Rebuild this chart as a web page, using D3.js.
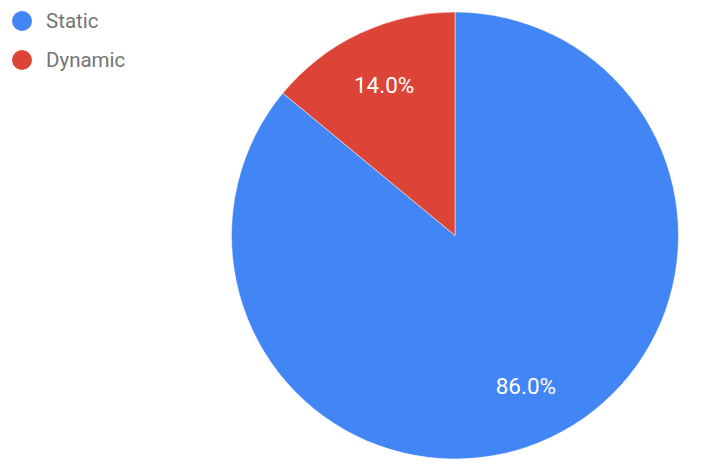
<!DOCTYPE html>
<html>
<head>
<meta charset="utf-8">
<script src="https://cdn.jsdelivr.net/npm/d3@7"></script>
<style>
  body { margin: 0; background: #fff; }
  text { font-family: Roboto, "Noto Sans", sans-serif; }
</style>
</head>
<body>
<script>
// chart data
var categories = ["Static", "Dynamic"];
var values = [86.0, 14.0];
var colors = ["#4285f4", "#db4437"];

var width = 717;
var height = 472;
var cx = 455, cy = 235.5, radius = 223.5;

var svg = d3.select("body")
            .append("svg")
            .attr("width", width)
            .attr("height", height);

var pie = d3.pie().sort(null).value(function(d) { return d; });
var arc = d3.arc().innerRadius(0).outerRadius(radius);
var labelArc = d3.arc().innerRadius(radius * 0.745).outerRadius(radius * 0.745);

var g = svg.append("g").attr("transform", "translate(" + cx + "," + cy + ")");

var slices = g.selectAll("g.slice")
              .data(pie(values))
              .enter().append("g")
              .attr("class", "slice");

slices.append("path")
      .attr("d", arc)
      .attr("fill", function(d, i) { return colors[i]; })
      .attr("stroke", "#fff")
      .attr("stroke-width", 0.5);

slices.append("text")
      .attr("transform", function(d) { return "translate(" + labelArc.centroid(d) + ")"; })
      .attr("text-anchor", "middle")
      .attr("dy", "0.36em")
      .attr("font-size", 22.5)
      .attr("fill", "#fff")
      .text(function(d) { return d.value.toFixed(1) + "%"; });

// legend
var legend = svg.selectAll("g.legend")
                .data(categories)
                .enter().append("g")
                .attr("class", "legend")
                .attr("transform", function(d, i) { return "translate(22," + (21 + i * 39) + ")"; });

legend.append("circle")
      .attr("r", 10)
      .attr("fill", function(d, i) { return colors[i]; });

legend.append("text")
      .attr("x", 24)
      .attr("dy", "0.36em")
      .attr("font-size", 20.5)
      .attr("fill", "#757575")
      .text(function(d) { return d; });
</script>
</body>
</html>
